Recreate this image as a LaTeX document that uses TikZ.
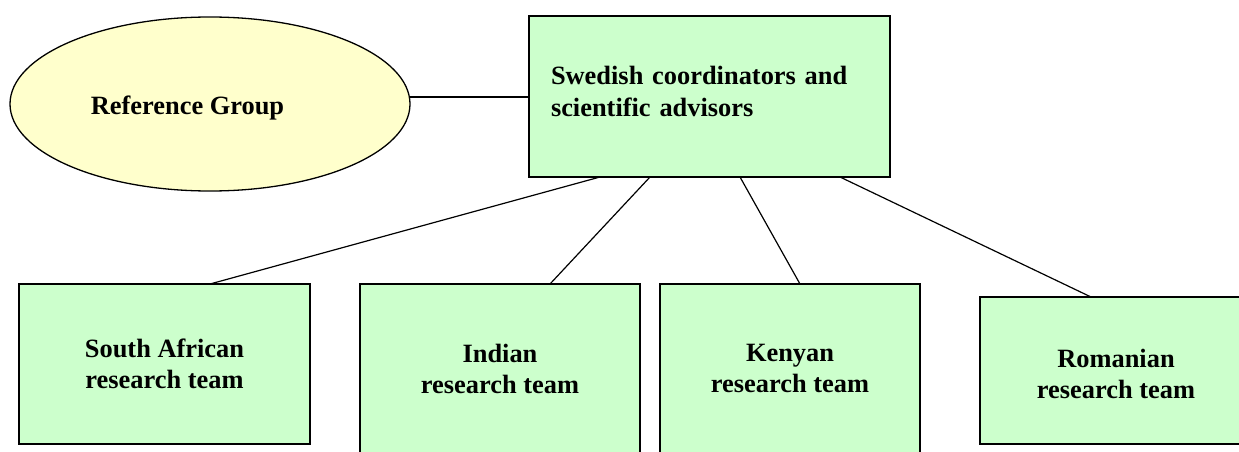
\documentclass[tikz,border=0pt]{standalone}
\usepackage{fontspec}
\setmainfont{Liberation Serif}
\usetikzlibrary{shapes.geometric}
\definecolor{boxgreen}{HTML}{CCFFCC}
\definecolor{ovalyellow}{HTML}{FFFFCC}
\tikzset{
  teambox/.style={draw=black, line width=1.3pt, fill=boxgreen, rectangle, inner sep=0pt, outer sep=0pt,
    align=center, font=\fontsize{26.4}{31}\selectfont\bfseries},
  coordbox/.style={draw=black, line width=1.3pt, fill=boxgreen, rectangle, inner sep=0pt, outer sep=0pt,
    align=left, text width=317pt, font=\fontsize{26.4}{32}\selectfont\bfseries},
  oval/.style={draw=black, line width=1.3pt, fill=ovalyellow, ellipse, inner sep=0pt, outer sep=0pt},
  plaintext/.style={inner sep=0pt, font=\fontsize{26.4}{31}\selectfont\bfseries},
  link/.style={draw=black, line width=1.2pt}
}
\begin{document}
\begin{tikzpicture}[x=1pt, y=-1pt]
\useasboundingbox (0,0) rectangle (1239,452);
\clip (0,0) rectangle (1239,452);

\node[oval, minimum width=400pt, minimum height=174pt] (ref) at (210,104) {};
\node[plaintext] (reftext) at (187.5,108) {Reference Group};

\node[coordbox, minimum width=361pt, minimum height=161pt] (swe) at (709.5,96.5)
  {Swedish coordinators and\\scientific advisors\rule[-10pt]{0pt}{0pt}};

\node[teambox, minimum width=291pt, minimum height=160pt] (sa) at (164.5,364) {South African\\research team};
\node[teambox, minimum width=280pt, minimum height=169pt] (ind) at (500,368.5) {Indian\\research team};
\node[teambox, minimum width=260pt, minimum height=169pt] (ken) at (790,368.5) {Kenyan\\research team};
\node[teambox, minimum width=272pt, minimum height=147pt] (rom) at (1116,370.5) {\rule{0pt}{26pt}Romanian\\research team};

\draw[link] (ref.2) -- (ref.2 -| swe.west);
\draw[link] ([xshift=71pt]swe.south west) -- ([xshift=191pt]sa.north west);
\draw[link] ([xshift=121pt]swe.south west) -- ([xshift=190pt]ind.north west);
\draw[link] ([xshift=211pt]swe.south west) -- ([xshift=140pt]ken.north west);
\draw[link] ([xshift=311pt]swe.south west) -- ([xshift=111pt]rom.north west);
\end{tikzpicture}
\end{document}
